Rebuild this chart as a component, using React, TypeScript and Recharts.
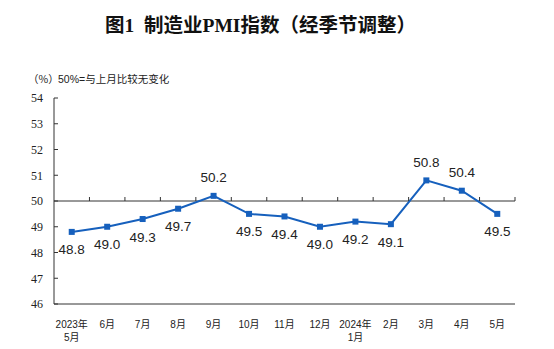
import React from 'react';
import { LineChart, Line, XAxis, YAxis, ReferenceLine, LabelList } from 'recharts';

const months = ['2023年\n5月', '6月', '7月', '8月', '9月', '10月', '11月', '12月', '2024年\n1月', '2月', '3月', '4月', '5月'];
const pmi = [48.8, 49.0, 49.3, 49.7, 50.2, 49.5, 49.4, 49.0, 49.2, 49.1, 50.8, 50.4, 49.5];
const yTicks = [46, 47, 48, 49, 50, 51, 52, 53, 54];

const data = months.map((m, i) => ({ month: m, value: pmi[i] }));

const W = 554;
const H = 349;
const TOP = 98;
const LEFT = 54;
const RIGHT = 39;
const BOTTOM = 45;
const PLOT_W = W - LEFT - RIGHT;
const PLOT_H = H - TOP - BOTTOM;
const HALF_BAND = PLOT_W / months.length / 2;
const Y50 = TOP + (PLOT_H * (54 - 50)) / (54 - 46);

const BLUE = '#1660bd';
const INK = '#222';

function MonthTick(props: any) {
  const { x, y, payload } = props;
  const lines = String(payload.value).split('\n');
  return (
    <g>
      <line x1={x + HALF_BAND} x2={x + HALF_BAND} y1={Y50} y2={Y50 - 4} stroke="#333" strokeWidth={1} />
      {lines.map((l, i) => (
        <text
          key={i}
          x={x}
          y={y + 16 + i * 12.5}
          textAnchor="middle"
          fontSize={10}
          fontFamily="'Liberation Sans', 'Noto Sans CJK SC', sans-serif"
          fill={INK}
        >
          {l}
        </text>
      ))}
    </g>
  );
}

function ValueLabel(props: any) {
  const { x, y, value } = props;
  const above = value >= 50;
  return (
    <text
      x={x}
      y={above ? y - 18 : y + 18}
      textAnchor="middle"
      dominantBaseline="central"
      fontSize={13.5}
      fontFamily="'Liberation Sans', Arial, sans-serif"
      fill={INK}
    >
      {value.toFixed(1)}
    </text>
  );
}

export default function App() {
  return (
    <div style={{ position: 'absolute', left: 0, top: 0, width: W, height: H, background: '#fff' }}>
      <div
        style={{
          position: 'absolute',
          left: 105,
          top: 12,
          fontSize: 19.5,
          fontWeight: 'bold',
          fontFamily: "'Liberation Serif', 'Noto Sans CJK SC', serif",
          color: '#111',
          lineHeight: '28px',
          whiteSpace: 'pre',
        }}
      >
        图1  制造业PMI指数（经季节调整）
      </div>
      <div
        style={{
          position: 'absolute',
          left: 28,
          top: 72,
          fontSize: 10.5,
          fontFamily: "'Noto Sans CJK SC', sans-serif",
          color: INK,
          lineHeight: '14px',
        }}
      >
        （%）
      </div>
      <div
        style={{
          position: 'absolute',
          left: 58,
          top: 72,
          fontSize: 10.5,
          fontFamily: "'Liberation Sans', 'Noto Sans CJK SC', sans-serif",
          color: INK,
          lineHeight: '14px',
        }}
      >
        50%=与上月比较无变化
      </div>
      <div style={{ position: 'absolute', left: 0, top: 0 }}>
        <LineChart width={W} height={H} data={data} margin={{ top: TOP, right: RIGHT, bottom: 15, left: 14 }}>
          <XAxis
            dataKey="month"
            scale="band"
            interval={0}
            height={30}
            axisLine={{ stroke: '#333' }}
            tickLine={false}
            tick={<MonthTick />}
          />
          <XAxis xAxisId="top" orientation="top" dataKey="month" height={0} tick={false} tickLine={false} axisLine={{ stroke: '#333' }} />
          <YAxis
            domain={[46, 54]}
            ticks={yTicks}
            width={40}
            interval={0}
            axisLine={{ stroke: '#333' }}
            tickLine={{ stroke: '#333' }}
            tickSize={-4}
            tickMargin={15}
            tick={{ fontSize: 12, fontFamily: "'Liberation Serif', serif", fill: INK }}
          />
          <YAxis yAxisId="right" orientation="right" domain={[46, 54]} width={0} tick={false} tickLine={false} axisLine={{ stroke: '#333' }} />
          <ReferenceLine y={50} stroke="#333" strokeWidth={1} />
          <Line
            type="linear"
            dataKey="value"
            stroke={BLUE}
            strokeWidth={2}
            isAnimationActive={false}
            dot={(p: any) => <rect key={p.index} x={p.cx - 3} y={p.cy - 3} width={6} height={6} fill={BLUE} />}
            activeDot={false}
          >
            <LabelList dataKey="value" content={<ValueLabel />} />
          </Line>
        </LineChart>
      </div>
    </div>
  );
}
